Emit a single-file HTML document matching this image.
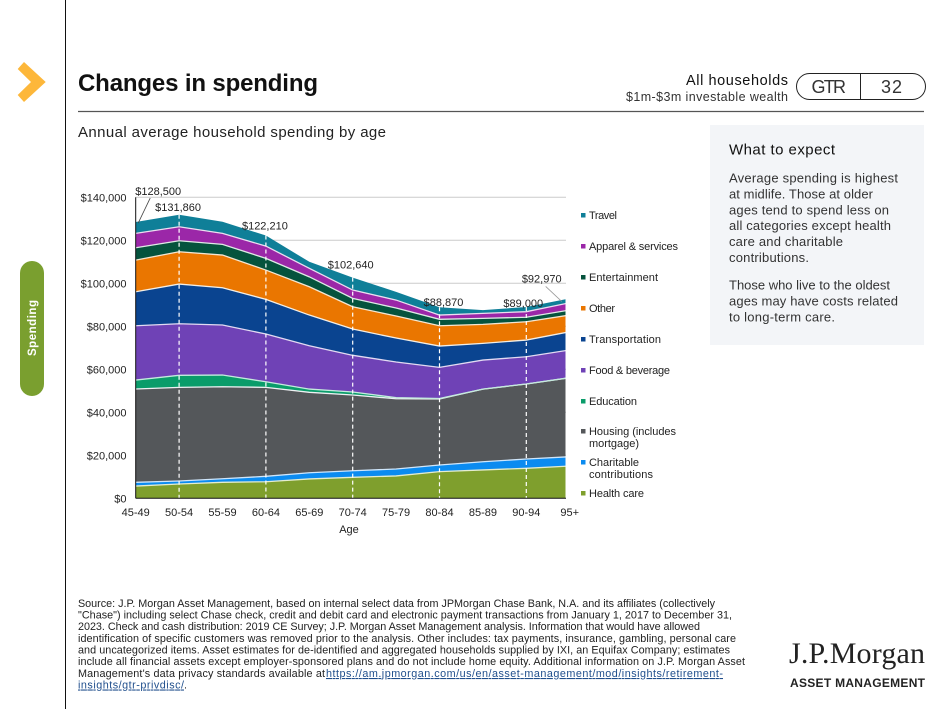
<!DOCTYPE html>
<html lang="en">
<head>
<meta charset="utf-8">
<title>Changes in spending</title>
<style>
html,body{margin:0;padding:0;background:#fff;}
svg{display:block;}
text{font-family:"Liberation Sans",Arial,sans-serif;fill:#222;}
.tick{font-size:11px;}
.leg{font-size:11px;}
.val{font-size:11px;}
.body{font-size:13px;fill:#333;}
.fn{font-size:10.8px;fill:#222;}
</style>
</head>
<body>
<svg id="page" width="947" height="709" viewBox="0 0 947 709" xmlns="http://www.w3.org/2000/svg">
  <rect width="947" height="709" fill="#fff"/>
  <line x1="65.5" y1="0" x2="65.5" y2="709" stroke="#111" stroke-width="1"/>
  <polygon points="24,62 45.7,82 24,102 17.7,95 31,82 17.7,69" fill="#fdb73a"/>
  <rect x="20" y="261" width="24" height="135" rx="12" fill="#7a9f2f"/>
  <text transform="translate(36,356) rotate(-90)" font-size="11.5" font-weight="bold" style="fill:#fff" textLength="56">Spending</text>

  <text x="78" y="91" font-size="24" font-weight="bold" style="fill:#111" textLength="240">Changes in spending</text>
  <text x="686" y="85" font-size="14.5" style="fill:#111" textLength="102">All households</text>
  <text x="626" y="101" font-size="12.5" style="fill:#333" textLength="162">$1m-$3m investable wealth</text>
  <rect x="796.5" y="73.5" width="129" height="26" rx="13" fill="#fff" stroke="#222" stroke-width="1"/>
  <line x1="860.5" y1="73.5" x2="860.5" y2="99.5" stroke="#222" stroke-width="1"/>
  <text x="811.5" y="93" font-size="18" style="fill:#333" textLength="34.5">GTR</text>
  <text x="881" y="93" font-size="18" style="fill:#333" textLength="21">32</text>
  <line x1="78" y1="111.5" x2="924" y2="111.5" stroke="#555" stroke-width="1.2"/>
  <text x="78" y="137" font-size="15" style="fill:#222" textLength="308">Annual average household spending by age</text>

  <g id="chart"></g>

  <g>
    <g><rect x="581" y="213" width="4.5" height="4.5" fill="#0f7f98"/><text class="leg" x="589" y="219" textLength="28">Travel</text></g>
    <g><rect x="581" y="244" width="4.5" height="4.5" fill="#9b27a8"/><text class="leg" x="589" y="250" textLength="89">Apparel &amp; services</text></g>
    <g><rect x="581" y="275" width="4.5" height="4.5" fill="#05533d"/><text class="leg" x="589" y="281" textLength="69">Entertainment</text></g>
    <g><rect x="581" y="306" width="4.5" height="4.5" fill="#ea7600"/><text class="leg" x="589" y="312" textLength="26">Other</text></g>
    <g><rect x="581" y="337" width="4.5" height="4.5" fill="#0a4490"/><text class="leg" x="589" y="343" textLength="72">Transportation</text></g>
    <g><rect x="581" y="368" width="4.5" height="4.5" fill="#6f42b6"/><text class="leg" x="589" y="374" textLength="81">Food &amp; beverage</text></g>
    <g><rect x="581" y="399" width="4.5" height="4.5" fill="#0a9c6a"/><text class="leg" x="589" y="405" textLength="48">Education</text></g>
    <g><rect x="581" y="429" width="4.5" height="4.5" fill="#54575a"/><text class="leg" x="589" y="435" textLength="87">Housing (includes</text><text class="leg" x="589" y="447" textLength="50">mortgage)</text></g>
    <g><rect x="581" y="460" width="4.5" height="4.5" fill="#0b8bf0"/><text class="leg" x="589" y="466" textLength="50">Charitable</text><text class="leg" x="589" y="478" textLength="64">contributions</text></g>
    <g><rect x="581" y="491" width="4.5" height="4.5" fill="#7f9f2d"/><text class="leg" x="589" y="497" textLength="55">Health care</text></g>
  </g>

  <g>
    <rect x="710" y="125" width="214" height="220" fill="#f3f5f8"/>
    <text x="729" y="154.5" font-size="15" style="fill:#111" textLength="106">What to expect</text>
    <g>
      <text class="body" x="729" y="182.5" textLength="169">Average spending is highest</text>
      <text class="body" x="729" y="198.5" textLength="144">at midlife. Those at older</text>
      <text class="body" x="729" y="214.5" textLength="160">ages tend to spend less on</text>
      <text class="body" x="729" y="230" textLength="162">all categories except health</text>
      <text class="body" x="729" y="246" textLength="114">care and charitable</text>
      <text class="body" x="729" y="262" textLength="80">contributions.</text>
      <text class="body" x="729" y="289.5" textLength="161">Those who live to the oldest</text>
      <text class="body" x="729" y="305.5" textLength="169">ages may have costs related</text>
      <text class="body" x="729" y="321.5" textLength="106">to long-term care.</text>
    </g>
  </g>

  <g>
    <text class="fn" x="78" y="607" textLength="637">Source: J.P. Morgan Asset Management, based on internal select data from JPMorgan Chase Bank, N.A. and its affiliates (collectively</text>
    <text class="fn" x="78" y="618.5" textLength="654">"Chase") including select Chase check, credit and debit card and electronic payment transactions from January 1, 2017 to December 31,</text>
    <text class="fn" x="78" y="630" textLength="622">2023. Check and cash distribution: 2019 CE Survey; J.P. Morgan Asset Management analysis. Information that would have allowed</text>
    <text class="fn" x="78" y="642" textLength="658">identification of specific customers was removed prior to the analysis. Other includes: tax payments, insurance, gambling, personal care</text>
    <text class="fn" x="78" y="653.5" textLength="652">and uncategorized items. Asset estimates for de-identified and aggregated households supplied by IXI, an Equifax Company; estimates</text>
    <text class="fn" x="78" y="665" textLength="667">include all financial assets except employer-sponsored plans and do not include home equity. Additional information on J.P. Morgan Asset</text>
    <text class="fn" x="78" y="677" textLength="247">Management's data privacy standards available at</text>
    <text class="fn" x="326" y="677" textLength="397" style="fill:#1f4e8c;text-decoration:underline">https://am.jpmorgan.com/us/en/asset-management/mod/insights/retirement-</text>
    <text class="fn" x="78" y="688.5" textLength="106" style="fill:#1f4e8c;text-decoration:underline">insights/gtr-privdisc/</text>
    <text class="fn" x="184" y="688.5">.</text>
  </g>

  <g>
    <text x="789" y="663" font-size="30" textLength="136" style="font-family:'Liberation Serif',serif;fill:#222">J.P.Morgan</text>
    <text x="790" y="687" font-size="12" font-weight="bold" textLength="135" style="fill:#222">ASSET MANAGEMENT</text>
  </g>
</svg>

<script>
const categories = ["45-49","50-54","55-59","60-64","65-69","70-74","75-79","80-84","85-89","90-94","95+"];
const yTicks = [0,20000,40000,60000,80000,100000,120000,140000];
const healthCare = [5700,6650,7440,7700,9000,9760,10400,12400,13200,13950,15000];
const charitable = [1740,1400,1660,2530,2900,3070,3220,3080,3800,4320,4340];
const housing = [43390,43550,42800,41370,37400,35200,32680,30720,33800,34880,36760];
const education = [4170,5600,5430,2600,1500,1400,500,200,0,0,0];
const food = [25260,24000,23270,22200,20160,17070,16600,14500,13500,12700,12900];
const transportation = [15810,18450,17330,16130,14270,12220,11140,9920,7770,7750,8470];
const other = [14730,15020,15200,13630,13170,10380,10230,9440,8830,8520,7760];
const entertainment = [5730,5110,4970,5440,4600,3900,3730,2990,2800,2080,2330];
const apparel = [6670,6520,5100,5700,3950,3860,3700,1980,2300,2600,3390];
const travel = [5300,5560,5400,4910,3050,5780,3800,3640,1500,2200,2020];
const printedTotals = ["$128,500","$131,860",null,"$122,210",null,"$102,640",null,"$88,870",null,"$89,000","$92,970"];

const SVGNS = "http://www.w3.org/2000/svg";
const chart = document.getElementById("chart");
const xLeft = 135.7, xStep = 43.4, xClip = 565.5;
const yBase = 498.3, yPxPerUnit = 301 / 140000;
function x(i){ return xLeft + xStep * i; }
function y(v){ return yBase - v * yPxPerUnit; }
function make(tag, attrs, text){
  const el = document.createElementNS(SVGNS, tag);
  for (const k in attrs) el.setAttribute(k, attrs[k]);
  if (text !== undefined) el.textContent = text;
  chart.appendChild(el);
  return el;
}
function money(v){ return "$" + v.toLocaleString("en-US"); }

const defs = document.createElementNS(SVGNS, "defs");
defs.innerHTML = '<clipPath id="plot-clip"><rect x="' + xLeft + '" y="150" width="' + (xClip - xLeft) + '" height="' + (yBase - 150) + '"></rect></clipPath>';
chart.appendChild(defs);

yTicks.forEach(function(t){
  if (t > 0) {
    const grid = make("line", {x1:xLeft, x2:xClip + 0.5, y1:y(t), y2:y(t), stroke:"#cccccc", "stroke-width":1});
    
    
  }
  const label = make("text", {x:126.5, y:y(t) + 4, "text-anchor":"end", "class":"tick"}, money(t));
  
  
});

const stackOrder = [
  {key:"health-care", values:healthCare, color:"#7f9f2d", line:"#e4ecd0"},
  {key:"charitable", values:charitable, color:"#0b8bf0", line:"#cfe6fb"},
  {key:"housing", values:housing, color:"#54575a", line:"#eef1f3"},
  {key:"education", values:education, color:"#0a9c6a", line:"#c4ebdd"},
  {key:"food", values:food, color:"#6f42b6", line:"#e2daf2"},
  {key:"transportation", values:transportation, color:"#0a4490", line:"#f4eee4"},
  {key:"other", values:other, color:"#ea7600", line:"#f4e6d2"},
  {key:"entertainment", values:entertainment, color:"#05533d", line:"#dfeae5"},
  {key:"apparel", values:apparel, color:"#9b27a8", line:"#ecdef0"},
  {key:"travel", values:travel, color:"#0f7f98", line:"none"}
];
const plot = make("g", {"clip-path":"url(#plot-clip)"});


let running = categories.map(function(){ return 0; });
stackOrder.forEach(function(s){
  const lower = running.slice();
  const upper = running.map(function(v, i){ return v + s.values[i]; });
  const topPts = upper.map(function(v, i){ return x(i) + "," + y(v); });
  const botPts = lower.map(function(v, i){ return x(i) + "," + y(v); }).reverse();
  const area = document.createElementNS(SVGNS, "polygon");
  area.setAttribute("points", topPts.concat(botPts).join(" "));
  area.setAttribute("fill", s.color);
  
  
  plot.appendChild(area);
  running = upper;
});
running = categories.map(function(){ return 0; });
stackOrder.forEach(function(s){
  running = running.map(function(v, i){ return v + s.values[i]; });
  if (s.line === "none") return;
  const line = document.createElementNS(SVGNS, "polyline");
  line.setAttribute("points", running.map(function(v, i){ return x(i) + "," + y(v); }).join(" "));
  line.setAttribute("fill", "none");
  line.setAttribute("stroke", s.line);
  line.setAttribute("stroke-width", "1.3");
  
  
  plot.appendChild(line);
});
const totals = running;

[1,3,5,7,9].forEach(function(i){
  const d = make("line", {x1:x(i), x2:x(i), y1:y(totals[i]), y2:yBase, stroke:"#ffffff", "stroke-width":1.2, "stroke-dasharray":"4 3"});
  
  
});

const yAxis = make("line", {x1:xLeft, x2:xLeft, y1:y(140000), y2:yBase, stroke:"#111", "stroke-width":1});


const xAxis = make("line", {x1:xLeft, x2:xClip + 0.5, y1:yBase, y2:yBase, stroke:"#111", "stroke-width":1});



categories.forEach(function(c, i){
  const t = make("text", {x:x(i), y:516, "text-anchor":"middle", "class":"tick"}, c);
  
  
});
const xTitle = make("text", {x:349, y:533, "text-anchor":"middle", "class":"tick"}, "Age");



function labelOffset(i){
  if (i === 0) return {dx:22.5, dy:-27};
  if (i === 1) return {dx:-1, dy:-4};
  if (i === 3) return {dx:-1, dy:-6};
  if (i === 5) return {dx:-2, dy:-9};
  if (i === 7) return {dx:4, dy:-1};
  if (i === 9) return {dx:-3, dy:0};
  return {dx:-28, dy:-16};
}
printedTotals.forEach(function(p, i){
  if (p === null) return;
  const o = labelOffset(i);
  const t = make("text", {x:x(i) + o.dx, y:y(totals[i]) + o.dy, "text-anchor":"middle", "class":"val"}, p);
  
  
});

const leaderA = make("line", {x1:x(0) + 2.5, y1:y(totals[0]) + 1, x2:x(0) + 14.5, y2:y(totals[0]) - 24, stroke:"#444", "stroke-width":0.8});


const leaderB = make("line", {x1:x(10) - 24, y1:y(totals[10]) - 12, x2:x(10) - 8, y2:y(totals[10]) + 3, stroke:"#999", "stroke-width":0.8});


</script>
</body>
</html>
